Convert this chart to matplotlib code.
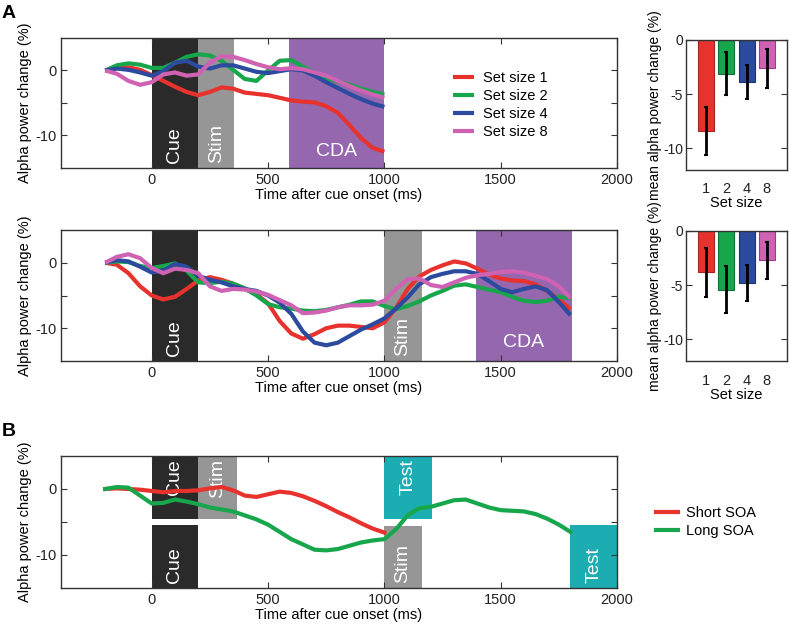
import matplotlib
matplotlib.use('Agg')
import matplotlib.pyplot as plt
from matplotlib.patches import Rectangle
import numpy as np

plt.rcParams['font.family'] = ['Liberation Sans', 'DejaVu Sans']
plt.rcParams['axes.unicode_minus'] = False

# ---- data (alpha power change, %) ----
t_a1 = np.arange(-200, 1001, 50)
a1_set1 = [0, 0.4, 0.5, 0.1, -0.7, -1.6, -2.5, -3.3, -3.8, -3.3, -2.6, -2.8, -3.4,
           -3.6, -3.8, -4.2, -4.6, -4.8, -4.9, -5.5, -6.5, -8.4, -10.4, -11.9, -12.5]
a1_set2 = [0, 0.8, 1.1, 0.9, 0.4, 0.4, 1.2, 2.1, 2.5, 2.3, 1.5, 0.1, -1.3,
           -1.6, 0.0, 1.5, 1.6, 0.6, -0.4, -1.2, -1.7, -2.2, -2.8, -3.3, -3.7]
a1_set4 = [0, 0.3, 0.1, -0.3, -0.8, -0.1, 1.2, 1.5, 0.6, 0.3, 0.8, 0.8, 0.3,
           -0.2, -0.4, -0.1, 0.2, 0.0, -0.8, -1.8, -2.7, -3.6, -4.4, -5.1, -5.6]
a1_set8 = [0, -0.5, -1.6, -2.2, -1.8, -0.6, -0.3, -0.8, -0.6, 1.2, 2.2, 2.1, 1.6,
           1.0, 0.5, 0.2, 0.35, 0.2, -0.3, -0.8, -1.6, -2.4, -3.1, -3.7, -4.2]

t_a2 = np.arange(-200, 1801, 50)
a2_set1 = [0, -0.3, -1.6, -3.6, -5.0, -5.6, -5.2, -4.0, -2.7, -2.2, -2.6, -3.2, -4.0,
           -4.8, -6.2, -8.9, -10.8, -11.6, -10.9, -10.0, -9.6, -9.6, -9.8, -10.0, -9.1,
           -6.9, -4.0, -2.1, -1.1, -0.4, 0.2, -0.1, -0.9, -1.8, -2.4, -2.7, -2.8, -3.3,
           -4.3, -5.6, -7.1]
a2_set2 = [0, 0.2, 0.1, -0.5, -0.8, -0.5, -0.1, -1.2, -3.0, -3.1, -2.9, -3.2, -3.9,
           -5.0, -6.3, -6.8, -7.0, -7.3, -7.4, -7.2, -6.8, -6.4, -5.9, -5.9, -6.6,
           -7.1, -6.6, -5.9, -5.0, -4.3, -3.5, -3.3, -3.7, -4.1, -4.5, -5.2, -5.8, -6.0,
           -5.8, -5.2, -5.4]
a2_set4 = [0, 0.4, 0.2, -0.6, -1.5, -1.2, -0.2, -0.6, -2.0, -2.6, -3.0, -3.6, -4.0,
           -4.3, -5.0, -6.1, -7.8, -10.5, -12.2, -12.6, -12.2, -11.2, -10.2, -9.4, -8.5,
           -7.0, -5.3, -3.3, -2.2, -1.7, -1.3, -1.3, -1.7, -2.8, -4.0, -4.5, -4.0, -3.6,
           -4.2, -6.0, -8.0]
a2_set8 = [0, 0.9, 1.3, 0.7, -0.8, -1.6, -0.9, -1.1, -1.6, -3.6, -4.3, -4.0, -4.1,
           -4.4, -4.9, -5.7, -6.5, -7.7, -7.6, -7.3, -6.8, -6.5, -6.5, -6.4, -5.8,
           -4.0, -2.5, -2.4, -3.4, -3.7, -3.0, -2.3, -1.9, -1.7, -1.4, -1.3, -1.5, -2.0,
           -2.5, -3.6, -5.4]

t_short = np.arange(-200, 1001, 50)
b_short = [0, 0.1, 0.0, -0.1, -0.3, -0.5, -0.3, -0.3, -0.2, 0.1, 0.3, -0.2, -1.0,
           -1.2, -0.8, -0.4, -0.6, -1.1, -1.8, -2.6, -3.5, -4.3, -5.2, -6.0, -6.6]
t_long = np.arange(-200, 1801, 50)
b_long = [0, 0.3, 0.2, -1.0, -2.2, -2.1, -1.6, -1.9, -2.3, -2.8, -3.1, -3.4, -4.0,
          -4.6, -5.4, -6.5, -7.6, -8.4, -9.2, -9.3, -9.1, -8.6, -8.1, -7.8, -7.6,
          -6.1, -4.0, -2.9, -2.7, -2.2, -1.7, -1.6, -2.2, -2.8, -3.2, -3.3, -3.4, -3.8,
          -4.5, -5.4, -6.5]

set_sizes = ['1', '2', '4', '8']
bar_top = [-8.4, -3.1, -3.9, -2.6]
err_top = [2.2, 2.0, 1.55, 1.8]
bar_mid = [-3.8, -5.4, -4.8, -2.7]
err_mid = [2.25, 2.15, 1.7, 1.7]

set_labels = ['Set size 1', 'Set size 2', 'Set size 4', 'Set size 8']
colors = ['#e8322e', '#17a64b', '#2c4b9f', '#d062b4']
c_cue, c_stim, c_cda, c_test = '#2a2a2a', '#969696', '#9467ae', '#1badb1'

W, H = 790, 624
fig = plt.figure(figsize=(W / 100, H / 100), dpi=100)


def px_axes(left, top, right, bottom):
    return fig.add_axes([left / W, 1 - bottom / H, (right - left) / W, (bottom - top) / H])


def style(ax, fs=10.5):
    for s in ax.spines.values():
        s.set_color('#333333')
        s.set_linewidth(1.0)
    ax.tick_params(direction='in', top=True, right=True, length=4, width=0.8,
                   labelsize=fs, colors='#333333', labelcolor='#222222')


def time_axes(ax):
    ax.set_xlim(-390, 2000)
    ax.set_ylim(-15, 5)
    ax.set_xticks([0, 500, 1000, 1500, 2000])
    ax.set_yticks([-10, -5, 0])
    ax.set_yticklabels(['-10', '', '0'])
    ax.set_xlabel('Time after cue onset (ms)', fontsize=10.5, labelpad=1)
    ax.set_ylabel('Alpha power change (%)', fontsize=10.5, labelpad=2)
    style(ax)


def box(ax, x0, x1, y0, y1, color, label, va, rot=90, ty=None, fs=14):
    ax.add_patch(Rectangle((x0, y0), x1 - x0, y1 - y0, color=color, lw=0, zorder=1))
    if ty is None:
        ty = y0 + 0.7 if va == 'bottom' else y1 - 0.5
    ax.text((x0 + x1) / 2, ty, label, rotation=rot, color='white', fontsize=fs,
            ha='center', va=va, zorder=2)


# ---- A, top ----
ax1 = px_axes(61, 38, 617, 168)
box(ax1, 0, 200, -15, 5, c_cue, 'Cue', 'bottom')
box(ax1, 200, 355, -15, 5, c_stim, 'Stim', 'bottom')
box(ax1, 590, 1000, -15, 5, c_cda, 'CDA', 'center', rot=0, ty=-12.4)
for y, c, lab in zip([a1_set1, a1_set2, a1_set4, a1_set8], colors, set_labels):
    ax1.plot(t_a1, y, color=c, lw=3, label=lab, zorder=3, solid_capstyle='butt')
time_axes(ax1)
ax1.legend(loc='center', bbox_to_anchor=(0.79, 0.485), frameon=False, fontsize=10.5,
           handlelength=1.5, handletextpad=0.6, labelspacing=0.28)

# ---- A, middle ----
ax2 = px_axes(61, 230, 617, 361)
box(ax2, 0, 200, -15, 5, c_cue, 'Cue', 'bottom')
box(ax2, 1000, 1160, -15, 5, c_stim, 'Stim', 'bottom')
box(ax2, 1395, 1805, -15, 5, c_cda, 'CDA', 'center', rot=0, ty=-12.2)
for y, c in zip([a2_set1, a2_set2, a2_set4, a2_set8], colors):
    ax2.plot(t_a2, y, color=c, lw=3, zorder=3, solid_capstyle='butt')
time_axes(ax2)

# ---- B ----
ax3 = px_axes(61, 456, 617, 588)
box(ax3, 0, 200, -4.5, 5, c_cue, 'Cue', 'top')
box(ax3, 200, 365, -4.5, 5, c_stim, 'Stim', 'top')
box(ax3, 1000, 1205, -4.5, 5, c_test, 'Test', 'top')
box(ax3, 0, 200, -15, -5.5, c_cue, 'Cue', 'bottom')
box(ax3, 1000, 1160, -15, -5.6, c_stim, 'Stim', 'bottom')
box(ax3, 1800, 2000, -15, -5.5, c_test, 'Test', 'bottom')
ax3.plot(t_short, b_short, color=colors[0], lw=3, label='Short SOA', zorder=3)
ax3.plot(t_long, b_long, color=colors[1], lw=3, label='Long SOA', zorder=3)
time_axes(ax3)
ax3.legend(loc='center', bbox_to_anchor=(1.16, 0.5), frameon=False, fontsize=10.5,
           handlelength=1.5, handletextpad=0.6, labelspacing=0.28)

# ---- bar panels ----
edge = ['#a82220', '#0e7434', '#1c3370', '#95407f']
for (top, bot), vals, errs in [((40, 170), bar_top, err_top), ((231, 361), bar_mid, err_mid)]:
    axb = px_axes(686, top, 787, bot)
    x = np.arange(1, 5)
    axb.bar(x, vals, width=0.8, color=colors, edgecolor=edge, linewidth=0.8, zorder=2)
    axb.errorbar(x, vals, yerr=errs, fmt='none', ecolor='black', elinewidth=2,
                 capsize=1.5, capthick=1.5, zorder=3)
    axb.set_xlim(0, 5)
    axb.set_ylim(-12, 0)
    axb.set_xticks(x)
    axb.set_xticklabels(set_sizes)
    axb.set_yticks([-10, -5, 0])
    axb.set_xlabel('Set size', fontsize=10.5, labelpad=0)
    axb.set_ylabel('mean alpha power change (%)', fontsize=10)
    style(axb, fs=10)
    axb.tick_params(axis='x', length=0, pad=9, labelsize=10.5)
    axb.tick_params(axis='y', pad=2)
    axb.yaxis.set_label_coords(-0.235, 0.5)

fig.text(2 / W, 1 - 14 / H, 'A', fontsize=14, fontweight='bold', va='center', ha='left')
fig.text(2 / W, 1 - 431 / H, 'B', fontsize=14, fontweight='bold', va='center', ha='left')

fig.savefig('out.png', dpi=100)
